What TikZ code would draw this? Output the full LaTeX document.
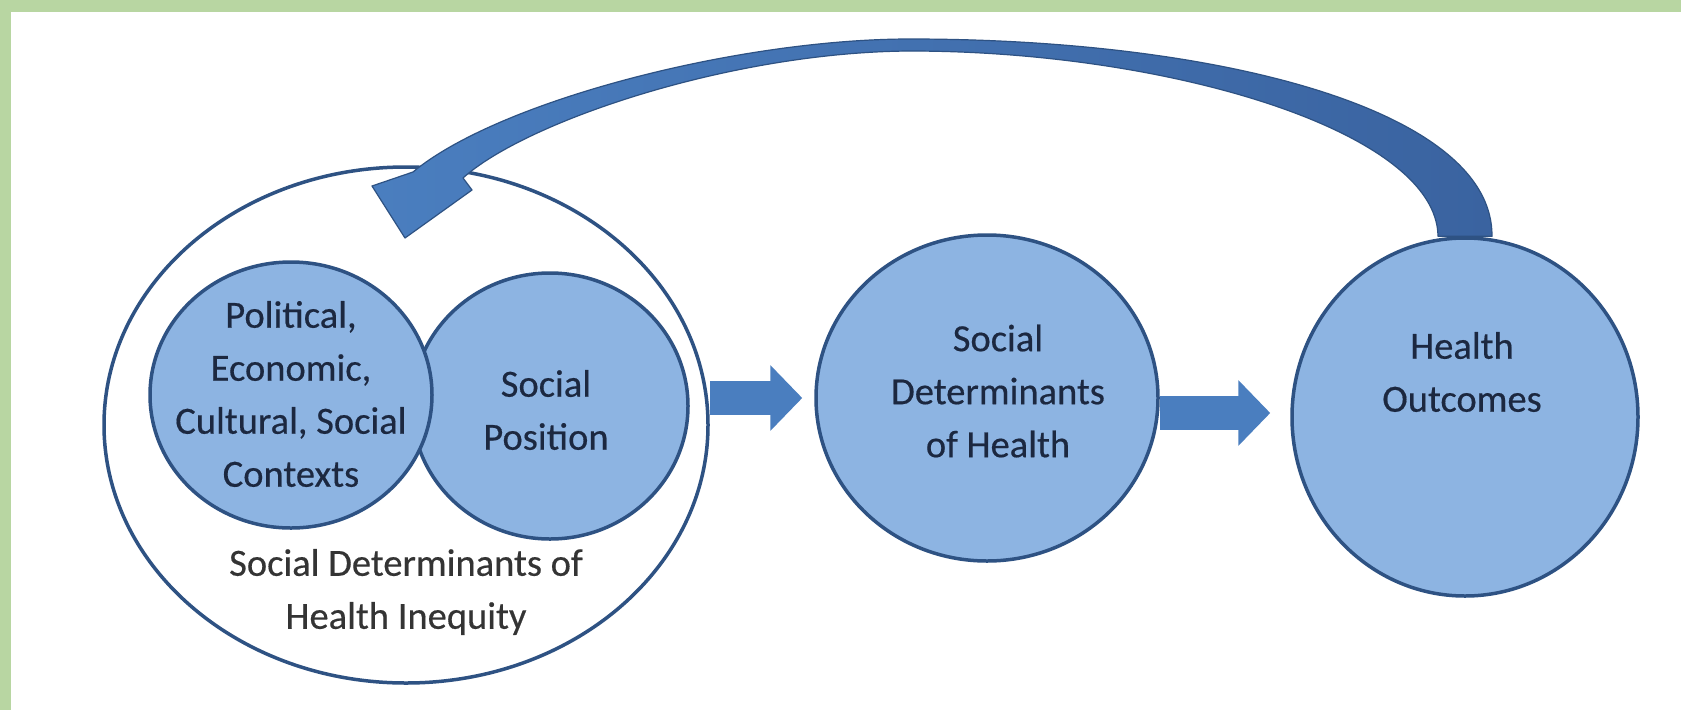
\documentclass[tikz,border=0pt]{standalone}
\usepackage{fontspec}
\setmainfont{Carlito}[FakeBold=0.4]
\usetikzlibrary{shapes.geometric,arrows.meta,calc}
\definecolor{framegreen}{RGB}{184,214,162}
\definecolor{circfill}{RGB}{141,180,226}
\definecolor{circline}{RGB}{46,82,131}
\definecolor{arrowblue}{RGB}{74,126,191}
\definecolor{arrowdark}{RGB}{58,99,160}
\definecolor{txtblue}{RGB}{28,40,64}
\definecolor{txtgrey}{RGB}{52,52,52}
\begin{document}
\begin{tikzpicture}[x=1pt,y=-1pt,
  blob/.style={ellipse,draw=circline,line width=3.5pt,fill=circfill,inner sep=0pt},
  txt/.style={text=txtblue,align=center,font=\fontsize{38.5}{53}\selectfont},
  flow/.style={draw=arrowblue,line width=34pt,-{Triangle[length=32pt,width=64pt]}}]
\useasboundingbox (0,0) rectangle (1681,710);
\fill[framegreen] (0,0) rectangle (1681,710);
\fill[white] (11,12) rectangle (1681,710);

\node[blob,fill=white,minimum width=604pt,minimum height=516pt] (outer) at (406,425) {};
\node[blob,minimum width=276pt,minimum height=266pt] (pos) at (550,406) {};
\node[blob,minimum width=282pt,minimum height=266pt] (ctx) at (291,395) {};
\node[blob,minimum width=342pt,minimum height=326pt] (sdh) at (987,398) {};
\node[blob,minimum width=346pt,minimum height=358pt] (ho) at (1465,417) {};

\node[txt] (ctx-t) at (291,394) {Political,\\Economic,\\Cultural, Social\\Contexts};
\node[txt] (pos-t) at (546,410) {Social\\Position};
\node[txt] (sdh-t) at (998,391) {Social\\Determinants\\of Health};
\node[txt] (ho-t) at (1462,372) {Health\\Outcomes};
\node[txt,text=txtgrey] (outer-t) at (406,592) {Social Determinants of\\Health Inequity};

\draw[flow] (outer.east |- sdh.west) -- ([xshift=-12pt]sdh.west);
\draw[flow] ([yshift=-15pt]sdh.east) -- ([xshift=-20pt,yshift=-15pt]ho.west |- sdh.east);

% feedback arrow back to the inequity circle
\path[left color=arrowblue,right color=arrowdark,draw=circline,line width=1.2pt,line join=round]
  ([xshift=27pt]ho.north) .. controls (1493,110) and (1220,39) .. (910,39)
  .. controls (740,39) and (500,100) .. (413,172)
  -- (372,186) -- (405,238) -- (472,190) -- (463,178)
  .. controls (525,122) and (730,52) .. (910,51)
  .. controls (1170,51) and (1437,132) .. ([xshift=-27pt]ho.north) -- cycle;
\end{tikzpicture}
\end{document}
